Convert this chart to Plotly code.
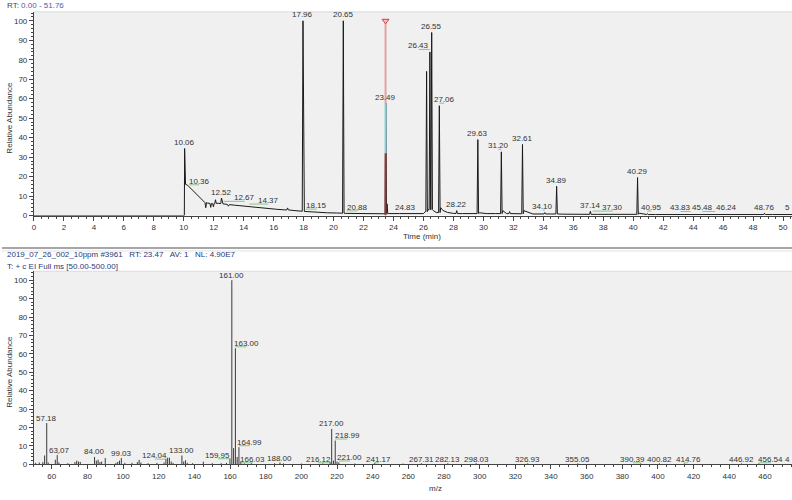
import plotly.graph_objects as go

W, H = 792, 500

# ---------------- chromatogram (TIC) data ----------------
RT_FULL = (0.00, 51.76)
trace_rt = [0.00, 10.00, 10.04, 10.06, 10.08, 10.12, 10.25, 10.40, 10.55, 10.70,
            10.85, 11.00, 11.15, 11.30, 11.38, 11.58, 11.70, 11.88, 12.05, 12.30,
            12.45, 12.62, 12.90, 13.05, 13.40, 14.00, 14.50, 15.00, 15.60, 16.20,
            16.75, 17.30, 17.85, 18.05, 18.50, 19.00, 19.60, 20.20, 20.55, 20.80,
            21.50, 22.30, 23.00, 23.40, 23.65, 24.40, 25.20, 26.00, 26.12, 26.30,
            26.49, 26.66, 26.85, 27.00, 27.15, 27.30, 27.60, 28.00, 28.60, 29.20,
            29.75, 30.20, 30.80, 31.30, 31.55, 32.00, 32.40, 32.70, 33.30, 33.70,
            34.50, 35.30, 36.00, 36.80, 37.60, 38.50, 39.30, 40.00, 40.40, 41.50,
            42.50, 43.30, 44.30, 45.00, 46.80, 47.50, 48.20, 49.30, 50.20, 51.76]
trace_ab = [0, 0, 0, 34.4, 17.0, 16.0, 15.6, 14.4, 13.4, 12.2,
            11.0, 9.8, 8.4, 7.3, 6.9, 6.4, 6.2, 6.1, 6.2, 6.3,
            6.1, 6.0, 5.7, 5.6, 5.3, 4.8, 4.4, 4.0, 3.6, 3.2,
            2.9, 2.6, 2.3, 2.1, 1.9, 1.6, 1.4, 1.3, 1.2, 1.1,
            1.0, 1.0, 0.9, 0.9, 1.0, 1.0, 1.0, 1.0, 2.0, 3.0,
            3.0, 2.5, 1.6, 1.5, 4.0, 2.6, 1.6, 1.1, 1.0, 1.0,
            1.4, 1.0, 1.0, 2.5, 1.0, 0.9, 0.9, 2.5, 0.8, 0.8,
            0.8, 0.7, 0.7, 0.6, 0.6, 0.6, 0.6, 0.6, 1.2, 0.5,
            0.5, 0.5, 0.5, 0.5, 0.5, 0.5, 0.5, 0.5, 0.5, 0.5]

peak_rt = [11.47, 11.80, 11.98, 12.12, 12.52, 12.98, 16.93, 17.96, 20.65, 23.49,
           23.57, 26.21, 26.43, 26.55, 27.06, 28.22, 29.63, 31.20, 31.75, 32.61,
           34.10, 34.89, 37.14, 40.29, 40.95, 43.83, 45.48, 46.24, 48.76, 50.86]
peak_ab = [4.0, 4.2, 4.5, 8.1, 9.0, 4.8, 3.9, 100, 100, 57.6,
           6.0, 74, 84, 94, 56.4, 2.5, 39, 32.7, 2.0, 36.5,
           1.5, 15, 2.2, 19.5, 1.0, 0.8, 0.8, 0.8, 1.2, 1.0]
peak_base = [6.6, 6.2, 6.1, 6.2, 6.1, 5.6, 2.9, 2.2, 1.2, 0.9,
             0.9, 2.0, 3.0, 3.0, 1.5, 1.0, 1.0, 1.0, 1.0, 0.9,
             0.8, 0.8, 0.6, 0.6, 0.5, 0.5, 0.5, 0.5, 0.5, 0.5]

label_rt = [10.06, 10.36, 12.52, 12.67, 14.37, 17.96, 18.15, 20.65, 20.88, 23.49,
            24.83, 26.43, 26.55, 27.06, 28.22, 29.63, 31.20, 32.61, 34.10, 34.89,
            37.14, 37.30, 40.29, 40.95, 43.83, 45.48, 46.24, 48.76, 50.86]
label_ab = [34.4, 14.5, 9.0, 6.0, 4.6, 100, 2.0, 100, 1.1, 57.6,
            1.0, 84, 94, 56.4, 2.5, 39, 32.7, 36.5, 1.5, 15,
            2.2, 1.0, 19.5, 1.0, 0.8, 0.8, 0.8, 1.2, 1.0]

scan_rt = 23.47
scan_top = 100
scan_peak_ab = 57.6
scan_split_ab = 32.0

# ---------------- mass spectrum data ----------------
MZ_FULL = (50.00, 500.00)
mz = [51, 53, 55, 56, 57.18, 58, 62, 63.07, 64, 69,
      73, 74, 75, 76, 84.00, 85, 86, 87, 88, 90,
      96, 97, 98, 99.03, 101, 105, 108, 109, 110, 114,
      119, 123, 124.04, 125, 126, 127, 128, 133.00, 134, 135,
      136, 139, 145, 150, 155, 158, 159.95, 161.00, 162, 163.00,
      164, 164.99, 166.03, 168, 172, 185, 188.00, 190, 200, 212,
      216.12, 217.00, 218, 218.99, 220, 221.00, 230, 241.17, 257, 267.31,
      282.13, 298.03, 326.93, 355.05, 390.39, 400.82, 414.76, 446.92, 456.54]
intensity = [0.8, 1.0, 1.2, 4.8, 22.4, 1.0, 2.5, 5.0, 1.0, 0.6,
             1.2, 2.0, 1.5, 1.3, 4.0, 2.0, 2.5, 1.2, 1.5, 3.4,
             0.8, 1.3, 2.0, 3.4, 0.8, 0.8, 1.2, 2.4, 1.0, 0.6,
             0.8, 1.0, 3.0, 3.6, 3.6, 1.5, 0.8, 4.8, 1.5, 2.2,
             0.8, 0.6, 1.4, 0.6, 0.6, 0.8, 3.2, 100, 8.8, 63,
             4.0, 9.3, 1.5, 0.5, 0.6, 0.6, 1.0, 0.5, 0.4, 0.5,
             1.2, 19.2, 2.0, 12.9, 1.5, 1.0, 0.4, 0.8, 0.4, 0.6,
             0.6, 0.6, 0.5, 0.5, 0.5, 0.5, 0.5, 0.5, 0.5]

mz_label = [57.18, 63.07, 84.00, 99.03, 124.04, 133.00, 159.95, 161.00, 163.00, 164.99,
            166.03, 188.00, 216.12, 217.00, 218.99, 221.00, 241.17, 267.31, 282.13, 298.03,
            326.93, 355.05, 390.39, 400.82, 414.76, 446.92, 456.54, 478.46]
mz_label_ab = [22.4, 5.0, 4.0, 3.4, 2.0, 4.8, 2.2, 100, 63, 9.3,
               0, 0.3, 0, 19.2, 12.9, 1.0, 0, 0, 0, 0,
               0, 0, 0, 0, 0, 0, 0, 0]

header_top = "RT:"
header_top_range = "0.00 - 51.76"
header_ms1 = "2019_07_26_002_10ppm #3961\u00a0\u00a0 RT: 23.47\u00a0\u00a0 AV: 1\u00a0\u00a0 NL: 4.90E7"
header_ms2 = "T: + c EI Full ms [50.00-500.00]"

# ---------------- layout geometry (pixels) ----------------
PLOT_L = 32
TOP_T, TOP_B = 12, 217.7
BOT_T, BOT_B = 274, 469
RT_PX_PER = 15.02
MZ_PX_PER = 1.7875
TOP_PX_PER_Y = 1.967
BOT_PX_PER_Y = 1.86
PEAK_HW = 0.05

rt_max = RT_FULL[0] + (W - PLOT_L) / RT_PX_PER
mz_max = MZ_FULL[0] + (W - PLOT_L) / MZ_PX_PER
top_ymax = (TOP_B - TOP_T) / TOP_PX_PER_Y
bot_ymax = (BOT_B - BOT_T) / BOT_PX_PER_Y

FONT = "Liberation Sans, Arial, sans-serif"
TXT = "#333333"

LABEL_SHIFT_TOP = {10.36: 10, 12.67: 21, 14.37: 19, 18.15: 11, 20.88: 11, 26.43: -11,
                   27.06: 5, 31.20: -3, 34.10: -2, 37.30: 20, 40.95: 4, 43.83: -10, 45.48: -13}
LABEL_SHIFT_BOT = {63.07: 2, 124.04: -11, 159.95: -12, 163.00: 11, 164.99: 11, 166.03: 12,
                   216.12: -12, 218.99: 12, 221.00: 11, 241.17: 4, 390.39: -8, 414.76: 4, 456.54: 12}

# ---------------- build chromatogram polyline ----------------
pts = list(zip(trace_rt, trace_ab))
for rt, ab, base in zip(peak_rt, peak_ab, peak_base):
    pts += [(rt - PEAK_HW, base), (rt, ab), (rt + PEAK_HW, base)]
pts.sort(key=lambda p: p[0])
chrom_x = [p[0] for p in pts]
chrom_y = [p[1] for p in pts]

fig = go.Figure()
fig.add_trace(go.Scatter(x=chrom_x, y=chrom_y, mode="lines",
                         line=dict(color="#1a1a1a", width=1),
                         xaxis="x", yaxis="y", hoverinfo="skip", showlegend=False))

# scan marker (selected scan)
fig.add_trace(go.Scatter(x=[scan_rt, scan_rt], y=[0, scan_split_ab], mode="lines",
                         line=dict(color="#8e3b3b", width=2), xaxis="x", yaxis="y",
                         hoverinfo="skip", showlegend=False))
fig.add_trace(go.Scatter(x=[scan_rt, scan_rt], y=[scan_split_ab, scan_peak_ab], mode="lines",
                         line=dict(color="#86d2d8", width=2), xaxis="x", yaxis="y",
                         hoverinfo="skip", showlegend=False))
fig.add_trace(go.Scatter(x=[scan_rt, scan_rt], y=[scan_peak_ab, scan_top], mode="lines",
                         line=dict(color="#e6a2a2", width=2), xaxis="x", yaxis="y",
                         hoverinfo="skip", showlegend=False))
fig.add_trace(go.Scatter(x=[scan_rt], y=[scan_top], mode="markers",
                         marker=dict(symbol="triangle-down", size=6, color="#f3c4c4",
                                     line=dict(color="#d04040", width=1)),
                         xaxis="x", yaxis="y", hoverinfo="skip", showlegend=False, cliponaxis=False))

# ---------------- stick spectrum ----------------
sx, sy = [], []
for m, a in zip(mz, intensity):
    sx += [m, m, None]
    sy += [0, a, None]
fig.add_trace(go.Scatter(x=sx, y=sy, mode="lines", line=dict(color="#3a3a3a", width=1),
                         xaxis="x2", yaxis="y2", hoverinfo="skip", showlegend=False))

annotations = []
shapes = []


def add_label(xv, yv, xref, yref, shift, yshift, xmax, gy):
    txt = f"{xv:.2f}"
    xa, xanchor, xs = xv, "center", shift
    if xv > xmax:
        # label runs past the window edge: only its first glyph is visible
        txt = txt[0]
        xa, xanchor, xs = xmax, "right", 0
    annotations.append(dict(x=xa, y=yv, xref=xref, yref=yref, text=txt, showarrow=False,
                            xanchor=xanchor, yanchor="middle", xshift=xs, yshift=yshift,
                            font=dict(family=FONT, size=8, color=TXT)))
    if shift and xv <= xmax:
        shapes.append(dict(type="line", xref=xref, yref=yref, xsizemode="pixel", ysizemode="pixel",
                           xanchor=xv, yanchor=yv, x0=min(0, shift), x1=max(0, shift),
                           y0=gy, y1=gy, line=dict(color="#86c886", width=1)))


for rt, ab in zip(label_rt, label_ab):
    add_label(rt, ab, "x", "y", LABEL_SHIFT_TOP.get(rt, 0), 6, rt_max, 2.5)
for m, ab in zip(mz_label, mz_label_ab):
    add_label(m, ab, "x2", "y2", LABEL_SHIFT_BOT.get(m, 0), 5, mz_max, 1.5)

# headers
annotations.append(dict(x=3 / W, y=1 - 6 / H, xref="paper", yref="paper", showarrow=False,
                        xanchor="left", yanchor="middle",
                        text=f"<span style='color:#3d4663'>{header_top}</span> "
                             f"<span style='color:#4b5cb0'>{header_top_range}</span>",
                        font=dict(family=FONT, size=8)))
annotations.append(dict(x=3 / W, y=1 - 257 / H, xref="paper", yref="paper", showarrow=False,
                        xanchor="left", yanchor="middle", text=header_ms1,
                        font=dict(family=FONT, size=8, color="#27397a")))
annotations.append(dict(x=3 / W, y=1 - 269 / H, xref="paper", yref="paper", showarrow=False,
                        xanchor="left", yanchor="middle", text=header_ms2,
                        font=dict(family=FONT, size=8, color="#27397a")))

# axis titles
for yc in [(TOP_T + TOP_B) / 2 + 4, (BOT_T + BOT_B) / 2 + 4]:
    annotations.append(dict(x=8 / W, y=1 - yc / H, xref="paper", yref="paper", showarrow=False,
                            text="Relative Abundance", textangle=-90, xanchor="center",
                            yanchor="middle", font=dict(family=FONT, size=8, color=TXT)))
annotations.append(dict(x=sum(RT_FULL) / 2, y=1 - 239 / H, xref="x", yref="paper", showarrow=False,
                        text="Time (min)", xanchor="center", yanchor="middle",
                        font=dict(family=FONT, size=8, color=TXT)))
annotations.append(dict(x=sum(MZ_FULL) / 2, y=1 - 493 / H, xref="x2", yref="paper", showarrow=False,
                        text="m/z", xanchor="center", yanchor="middle",
                        font=dict(family=FONT, size=8, color=TXT)))

# separators and plot top borders
shapes += [
    dict(type="line", xref="paper", yref="paper", x0=0, x1=1, y0=1 - 250.5 / H, y1=1 - 250.5 / H,
         line=dict(color="#a6a6a6", width=2)),
    dict(type="line", xref="paper", yref="paper", x0=0, x1=1, y0=1 - 253.5 / H, y1=1 - 253.5 / H,
         line=dict(color="#e2e2e2", width=1)),
    dict(type="line", xref="paper", yref="paper", x0=PLOT_L / W, x1=1, y0=1 - TOP_T / H, y1=1 - TOP_T / H,
         line=dict(color="#dadada", width=1)),
    dict(type="line", xref="paper", yref="paper", x0=PLOT_L / W, x1=1, y0=1 - BOT_T / H, y1=1 - BOT_T / H,
         line=dict(color="#dadada", width=1)),
]

axis_common = dict(showgrid=False, zeroline=False, showline=True, linecolor="#444444", linewidth=1,
                   ticks="outside", ticklen=4, tickcolor="#444444", tickwidth=1,
                   tickfont=dict(family=FONT, size=8, color=TXT), fixedrange=True)

fig.update_layout(
    width=W, height=H, margin=dict(l=0, r=0, t=0, b=0),
    paper_bgcolor="white", plot_bgcolor="#f0f0f0",
    showlegend=False, hovermode=False,
    xaxis=dict(axis_common, domain=[PLOT_L / W, 1], range=[RT_FULL[0], rt_max], anchor="y",
               tick0=0, dtick=2, minor=dict(dtick=0.5, ticklen=2, ticks="outside", tickcolor="#444444")),
    yaxis=dict(axis_common, domain=[1 - TOP_B / H, 1 - TOP_T / H], range=[0, top_ymax], anchor="x",
               tick0=0, dtick=10, minor=dict(dtick=2, ticklen=2, ticks="outside", tickcolor="#444444")),
    xaxis2=dict(axis_common, domain=[PLOT_L / W, 1], range=[MZ_FULL[0], mz_max], anchor="y2",
                tick0=0, dtick=20, minor=dict(dtick=5, ticklen=2, ticks="outside", tickcolor="#444444")),
    yaxis2=dict(axis_common, domain=[1 - BOT_B / H, 1 - BOT_T / H], range=[0, bot_ymax], anchor="x2",
                tick0=0, dtick=10, minor=dict(dtick=2, ticklen=2, ticks="outside", tickcolor="#444444")),
    annotations=annotations, shapes=shapes,
)

fig.write_html("out.html", config={"displayModeBar": False, "staticPlot": True})
